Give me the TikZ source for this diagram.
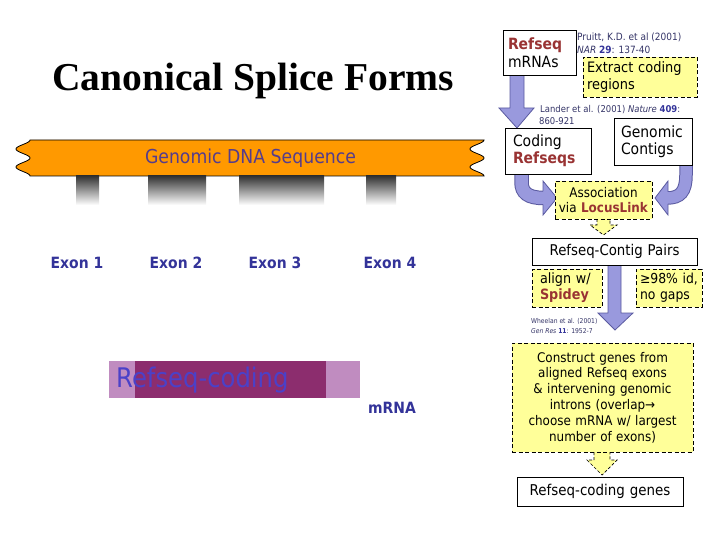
\documentclass[tikz,border=0pt]{standalone}
\usepackage{fontspec}
\setmainfont{DejaVu Sans}[FakeStretch=0.9]
\newfontfamily\titlefont{Liberation Serif}
\usetikzlibrary{calc}
\definecolor{bandorange}{RGB}{255,153,0}
\definecolor{bandtext}{RGB}{85,60,140}
\definecolor{exonblue}{RGB}{51,51,153}
\definecolor{lightpurple}{RGB}{192,140,192}
\definecolor{darkpurple}{RGB}{140,45,110}
\definecolor{codeblue}{RGB}{75,65,200}
\definecolor{paleyellow}{RGB}{255,255,153}
\definecolor{refred}{RGB}{153,51,51}
\definecolor{arrowfill}{RGB}{153,153,221}
\definecolor{arrowline}{RGB}{90,90,160}
\definecolor{citeblue}{RGB}{51,51,102}
\newcommand{\fsz}[2]{\fontsize{#1}{#2}\selectfont}
\newcommand{\rr}[1]{\textcolor{refred}{\textbf{#1}}}
\newcommand{\bb}[1]{\textcolor{exonblue}{\textbf{#1}}}
\begin{document}
\begin{tikzpicture}[x=1pt,y=-1pt,
  wbox/.style={draw=black, line width=0.8pt, fill=white, inner ysep=0pt, text=black},
  ybox/.style={draw=black, line width=0.8pt, dash pattern=on 4pt off 2.5pt, fill=paleyellow, inner ysep=0pt, text=black},
  barrow/.style={draw=arrowline, line width=0.8pt, fill=arrowfill, line join=miter},
  yarrow/.style={draw=black, line width=0.7pt, dash pattern=on 3pt off 2pt, fill=paleyellow},
  exon/.style={font=\fsz{15.5}{18}\bfseries, text=exonblue, inner sep=0pt, anchor=base},
  cite/.style={text=citeblue, inner sep=0pt, anchor=base west},
  bar/.style={top color=black!80, bottom color=white}
]
\useasboundingbox (0,0) rectangle (720,540);

% title
\node[font=\titlefont\fsz{39.5}{44}\bfseries, inner sep=0pt, anchor=base] (title) at (253,91) {Canonical Splice Forms};

% genomic DNA band
\path[fill=bandorange, draw=black, line width=0.8pt]
  plot[domain=0:36, samples=49] ({23+7*cos(20*(36-\x))},{176-\x})
  -- plot[domain=0:36, samples=49] ({477+7*cos(20*\x)},{140+\x}) -- cycle;
\node[font=\fsz{19.2}{22}, text=bandtext, inner sep=0pt, anchor=base] (dna) at (250.5,164) {Genomic DNA Sequence};

% exon shadows
\shade[bar] (76,176) rectangle (99,205);
\shade[bar] (148,176) rectangle (206,205);
\shade[bar] (239,176) rectangle (324,205);
\shade[bar] (366,176) rectangle (396,205);

% exon labels
\node[exon] (e1) at (77,268) {Exon 1};
\node[exon] (e2) at (176,268) {Exon 2};
\node[exon] (e3) at (275,268) {Exon 3};
\node[exon] (e4) at (390,268) {Exon 4};

% mRNA bar
\fill[lightpurple] (109,361) rectangle (360,398);
\fill[darkpurple] (135,361) rectangle (326,398);
\node[font=\fsz{27}{30}, text=codeblue, inner sep=0pt, anchor=base west] (rc) at (116,387) {Refseq-coding};
\node[exon] (mrna) at (392,413) {mRNA};

% ---------- right flowchart ----------
% block arrows (drawn first so boxes cover their ends)
\draw[barrow] (510,75) -- (510,108) -- (499,108) -- (517,128) -- (534,108) -- (524,108) -- (524,75);
\draw[barrow] (608,265) -- (608,313) -- (598,313) -- (615,330) -- (633,313) -- (621,313) -- (621,265);

% curved arrows
\draw[arrowline, line width=14.5pt] (521.5,172) -- (521.5,182) .. controls (521.5,193) and (528,198) .. (544,198);
\draw[arrowfill, line width=12.5pt] (521.5,172) -- (521.5,182) .. controls (521.5,193) and (528,198) .. (544,198);
\draw[barrow] (543,191.5) -- (543,181) -- (557,198) -- (543,215) -- (543,204.5);
\draw[arrowline, line width=13.5pt] (686,163) -- (686,175) .. controls (686,192) and (680,198) .. (667,198);
\draw[arrowfill, line width=11.5pt] (686,163) -- (686,175) .. controls (686,192) and (680,198) .. (667,198);
\draw[barrow] (668,192) -- (668,181) -- (655,198) -- (668,215) -- (668,204);

% hollow yellow arrows
\draw[yarrow] (597,219) -- (597,225) -- (590,225) -- (603.5,235) -- (617,225) -- (610,225) -- (610,219);
\draw[yarrow] (594,452) -- (594,460) -- (587,460) -- (602,475) -- (617,460) -- (610,460) -- (610,452);

% boxes
\node[wbox, minimum width=73, minimum height=45, text width=63, inner xsep=5, align=left, font=\fsz{15.5}{18}] (rm) at (539.5,52.5) {\rr{Refseq}\\mRNAs};
\node[ybox, minimum width=114, minimum height=40, text width=106, inner xsep=4, align=left, font=\fsz{14.4}{17}] (ex) at (640,77) {Extract coding\\regions};
\node[wbox, minimum width=86, minimum height=46, text width=70, inner xsep=8, align=left, font=\fsz{15.5}{17}] (cr) at (548,151) {Coding\\\rr{Refseqs}};
\node[wbox, minimum width=78, minimum height=47, text width=64, inner xsep=7, align=left, font=\fsz{15.5}{17.5}] (gc) at (653,141.5) {Genomic\\Contigs};
\node[ybox, minimum width=97, minimum height=38, text width=96, inner xsep=0.5, align=center, font=\fsz{13.3}{15.5}] (as) at (603.5,200) {Association\\via \rr{LocusLink}};
\node[wbox, minimum width=165, minimum height=27, text width=155, inner xsep=5, align=center, font=\fsz{14.8}{17}] (pairs) at (614.5,251.5) {Refseq-Contig Pairs};
\node[ybox, minimum width=70, minimum height=38, text width=54, inner xsep=8, align=left, font=\fsz{14.2}{16}] (al) at (567,288) {align w/\\\rr{Spidey}};
\node[ybox, minimum width=66, minimum height=38, text width=58, inner xsep=4, align=left, font=\fsz{13.8}{16}] (id) at (669,288) {≥98\% id,\\no gaps};
\node[ybox, minimum width=181, minimum height=109, text width=175, inner xsep=3, align=center, font=\fsz{13.3}{15.8}] (cg) at (602.5,397.5) {Construct genes from\\aligned Refseq exons\\\& intervening genomic\\introns (overlap→\\choose mRNA w/ largest\\number of exons)};
\node[wbox, minimum width=166, minimum height=29, text width=156, inner xsep=5, align=center, font=\fsz{14.9}{17}] (rg) at (600,491.5) {Refseq-coding genes};

% citations
\node[cite, font=\fsz{10}{12}] (p1) at (577,41) {Pruitt, K.D. et al (2001)};
\node[cite, font=\fsz{10}{12}] (p2) at (577,54) {\textit{NAR} \bb{29}: 137-40};
\node[cite, font=\fsz{9.4}{11}] (l1) at (540,113) {Lander et al. (2001) \textit{Nature} \bb{409}:};
\node[cite, font=\fsz{9.4}{11}] (l2) at (539,125) {860-921};
\node[cite, font=\fsz{6.7}{8}] (w1) at (531,323) {Wheelan et al. (2001)};
\node[cite, font=\fsz{6.7}{8}] (w2) at (531,333) {\textit{Gen Res} \bb{11}: 1952-7};
\end{tikzpicture}
\end{document}
